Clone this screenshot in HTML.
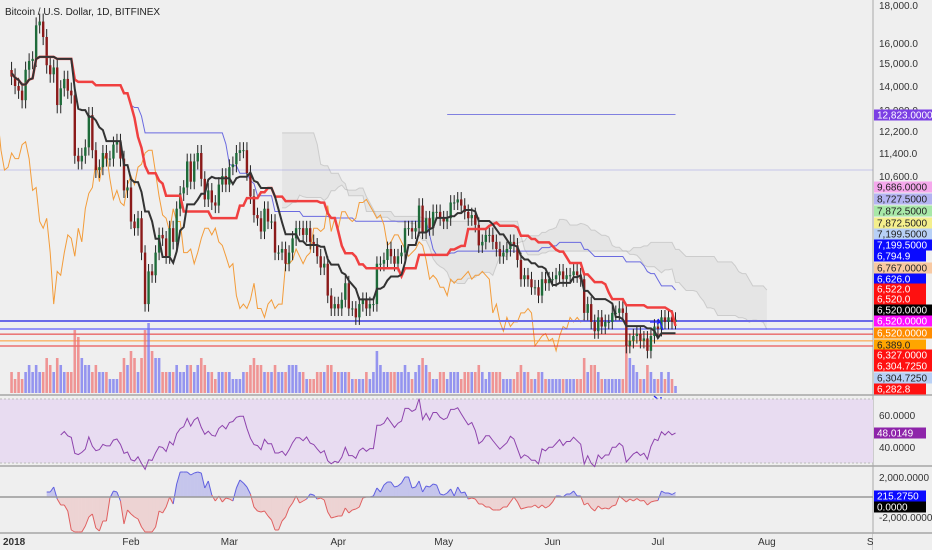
<!DOCTYPE html>
<html><head><meta charset="utf-8">
<style>
html,body{margin:0;padding:0;background:#efefef;}
#wrap{position:relative;width:932px;height:550px;overflow:hidden;background:#efefef;font-family:"Liberation Sans",sans-serif;}
svg{position:absolute;left:0;top:0;}
</style></head>
<body>
<div id="wrap">
<svg id="chart" width="932" height="550"></svg>
</div>
<script>
const closes=[14400,14000,13800,
13400,14700,15100,15200,16900,17100,16300,
14900,14500,14800,13200,13900,14300,13800,
13600,11300,11100,11300,11600,12800,11500,
10800,10900,11400,11200,11200,11700,11800,
11200,10100,10200,9100,8900,9200,8200,
6900,7700,7600,8200,8700,8600,8100,
8900,8500,9500,10000,10200,11100,10400,
11100,11400,10500,9800,10100,9700,9600,
10300,10600,10300,10900,11000,11400,11500,
11500,10700,9900,9300,9200,8800,9500,
9100,9100,8200,8200,8300,7900,8200,
8600,8900,8900,8700,8900,8500,8400,
8100,7800,7900,7100,6800,6900,6800,
7000,7400,6800,6800,6600,6900,7000,
6800,6900,6900,7900,7900,8000,8300,
8100,7900,8100,8200,8900,8900,8800,
8900,9600,8800,9200,8900,9400,9400,
9200,9100,9200,9700,9700,9800,9600,
9400,9200,9300,9000,8400,8500,8700,
8700,8500,8300,8100,8200,8300,8500,
8400,8000,7500,7600,7500,7300,7300,
7100,7500,7400,7500,7500,7600,7700,
7500,7600,7600,7700,7600,7500,6700,
6900,6500,6300,6600,6400,6500,6500,
6700,6700,6800,6700,6000,6100,6200,
6250,6100,6150,5900,6200,6400,6350,
6600,6500,6600,6500,6550];
const volumes=[3,2,3,
2,3,4,3,4,3,3, 5,4,3,5,4,3,3, 3,9,8,5,4,4,3, 4,3,3,3,2,2,2, 3,5,4,6,5,3,5,
9,10,6,5,5,3,3, 3,3,4,3,3,4,4, 3,4,5,4,3,3,2, 3,3,3,3,2,2,2, 3,3,4,5,4,4,3,
3,3,4,3,3,3,4, 4,4,3,3,2,2,2, 3,3,3,4,4,3,3, 3,3,3,2,2,2,2, 3,2,3,6,4,3,3,
3,3,3,3,4,3,2, 3,4,5,4,3,2,2, 3,3,2,3,3,3,2, 3,3,3,3,4,3,2, 3,3,3,3,2,2,2,
2,3,4,3,3,2,2, 3,3,2,2,2,2,2, 2,2,2,2,2,2,5, 3,4,4,3,2,2,2, 2,2,2,2,7,5,4,
3,2,2,4,3,2,2, 3,2,3,2,1];
const priceTicks=["18,000.0","16,000.0","15,000.0","14,000.0","13,000.0","12,200.0","11,400.0","10,600.0"];
const priceTickVals=[18000,16000,15000,14000,13000,12200,11400,10600];
const monthLabels=["2018","Feb","Mar","Apr","May","Jun","Jul","Aug","Sep"];
const monthDays=[3,34,62,93,123,154,184,215,246];
const levelLines=[6347,6240,6100,5995];
const levelColors=["#3b3bff","#e83030","#ff9a30","#e83030"];
const tagTexts=["9,686.0000","8,727.5000","7,872.5000","7,872.5000","7,199.5000","7,199.5000","6,794.9","6,767.0000","6,626.0","6,522.0","6,520.0","6,520.0000","6,520.0000","6,520.0000","6,389.0","6,327.0000","6,304.7250","6,304.7250","6,282.8"];
const tagBg=["#f5a8ec","#b4b4f2","#a8e8a8","#f4ef8c","#b8d0f6","#0a0aff","#0a0aff","#f8c9a2","#0a0aff","#ff1010","#ff1010","#000","#ff10ff","#ff8c00","#ffa500","#ff1010","#ff1010","#b8d0f6","#ff1010"];
const tagFg=["#222","#222","#222","#222","#222","#fff","#fff","#222","#fff","#fff","#fff","#fff","#fff","#fff","#222","#fff","#fff","#222","#fff"];

const NS="http://www.w3.org/2000/svg";
const svg=document.getElementById('chart');
function el(t,a,p){const e=document.createElementNS(NS,t);for(const k in a)e.setAttribute(k,a[k]);(p||svg).appendChild(e);return e;}
const anchors=[[18000,5],[16000,43],[15000,63],[14000,86],[13000,110],[12200,131],[11400,153],[10600,176],[6520,321]];
function yOf(p){
  const lp=Math.log(p);
  for(let i=0;i<anchors.length-1;i++){
    const a=anchors[i],b=anchors[i+1];
    if(p<=a[0]&&p>=b[0]){return a[1]+(Math.log(a[0])-lp)/(Math.log(a[0])-Math.log(b[0]))*(b[1]-a[1]);}
  }
  if(p>18000)return 5-(lp-Math.log(18000))*320;
  const a=anchors[7],b=anchors[8];
  return b[1]+(Math.log(b[0])-lp)/(Math.log(a[0])-Math.log(b[0]))*(b[1]-a[1]);
}
function xOf(i){return 131+(i-34)*3.513;}
const n=closes.length;
const opens=closes.map((c,i)=>i?closes[i-1]:c*1.02);
const highs=closes.map((c,i)=>Math.max(c,opens[i])*1.025);
const lows=closes.map((c,i)=>Math.min(c,opens[i])*0.975);
function mid(i,p){let h=-1e9,l=1e9;for(let k=Math.max(0,i-p+1);k<=i;k++){h=Math.max(h,highs[k]);l=Math.min(l,lows[k]);}return (h+l)/2;}
const tenkan=closes.map((c,i)=>mid(i,9)),kijun=closes.map((c,i)=>mid(i,26)),spanB=closes.map((c,i)=>mid(i,52));
const spanA=tenkan.map((t,i)=>(t+kijun[i])/2);

el('line',{x1:0,y1:395,x2:932,y2:395,stroke:'#b8b8b8','stroke-width':2});
el('line',{x1:0,y1:466,x2:932,y2:466,stroke:'#b8b8b8','stroke-width':2});
el('line',{x1:0,y1:533,x2:932,y2:533,stroke:'#b8b8b8','stroke-width':2});
el('line',{x1:873,y1:0,x2:873,y2:550,stroke:'#a8a8a8','stroke-width':1});

function pathFrom(arr,off){let d='';for(let i=0;i<arr.length;i++){const x=xOf(i+off);d+=(d?'L':'M')+x.toFixed(1)+' '+yOf(arr[i]).toFixed(1);}return d;}
let cloudTop='',cloudBot=[];
for(let i=51;i<n;i++){const x=xOf(i+26);cloudTop+=(cloudTop?'L':'M')+x+' '+yOf(spanA[i]);cloudBot.unshift(x+' '+yOf(spanB[i]));}
const cloud=el('path',{d:cloudTop+'L'+cloudBot.join('L')+'Z',fill:'rgba(120,120,120,0.08)',stroke:'none'});


el('path',{d:pathFrom(spanA.slice(51),77),fill:'none',stroke:'rgba(150,150,150,0.35)','stroke-width':1});
el('path',{d:pathFrom(spanB.slice(51),77),fill:'none',stroke:'rgba(150,150,150,0.35)','stroke-width':1});
const bl=el('path',{d:pathFrom(spanB,0),fill:'none',stroke:'#6a6ae0','stroke-width':1});


el('line',{x1:xOf(124),y1:yOf(12823),x2:xOf(189),y2:yOf(12823),stroke:'#8080e0','stroke-width':1});
el('line',{x1:0,y1:yOf(10600)-6,x2:873,y2:yOf(10600)-6,stroke:'rgba(120,120,220,0.35)','stroke-width':1});
const ch=el('path',{d:pathFrom(closes,-26),fill:'none',stroke:'#f39c3a','stroke-width':1});


el('line',{x1:0,y1:321,x2:873,y2:321,stroke:'#6a6ae8','stroke-width':2});
levelLines.forEach((v,k)=>{const l=el('line',{x1:0,y1:yOf(v),x2:873,y2:yOf(v),stroke:levelColors[k],'stroke-width':1});

});
const vg=el('g',{});


volumes.forEach((v,i)=>{const h=v*7;const r=el('rect',{x:xOf(i)-1.3,y:393-h,width:2.6,height:h,fill:closes[i]>=opens[i]?'rgba(110,110,240,0.7)':'rgba(240,110,110,0.7)'},vg);

});
const cg=el('g',{});


closes.forEach((c,i)=>{const up=c>=opens[i];const col=up?'#1e6b3a':'#8b1a1a';const x=xOf(i);
el('line',{x1:x,y1:yOf(highs[i]),x2:x,y2:yOf(lows[i]),stroke:'#222','stroke-width':1},cg);
const y1=yOf(Math.max(c,opens[i])),y2=yOf(Math.min(c,opens[i]));
const r=el('rect',{x:x-1.2,y:y1,width:2.4,height:Math.max(1,y2-y1),fill:col},cg);

});
const kj=el('path',{d:pathFrom(kijun,0),fill:'none',stroke:'#f04040','stroke-width':2.5});


const tk=el('path',{d:pathFrom(tenkan,0),fill:'none',stroke:'#333','stroke-width':2});


el('path',{d:'M650 322 L660 322 L663 330 M658 319 L660 322 L657 324',stroke:'#2020ff',fill:'none','stroke-width':1.3});
el('path',{d:'M654 396 L661 402 M655 402 L661 402 L661 397',stroke:'#2020ff',fill:'none','stroke-width':1.3});
const ttl=el('text',{x:5,y:15,'font-size':10,fill:'#222'});ttl.textContent='Bitcoin / U.S. Dollar, 1D, BITFINEX';


priceTicks.forEach((s,k)=>{const tt=el('text',{x:879,y:yOf(priceTickVals[k])+4,'font-size':10,fill:'#333'});tt.textContent=s;

});
function tag(y,txt,bg,fg){const r=el('rect',{x:874,y:y-5.5,width:Math.max(52,txt.length*5.8+4),height:11,fill:bg});


const tt=el('text',{x:877,y:y+3.5,'font-size':10,fill:fg});tt.textContent=txt;}
tag(115,'12,823.0000','#7b3fe4','#fff');
const tagYs=[187,199,211,223,234,245,256,268,279,289,299,310,321,333,345,355,366,378,389];
tagTexts.forEach((s,k)=>tag(tagYs[k],s,tagBg[k],tagFg[k]));
let ag=0,al=0;const rsi=[];
for(let i=1;i<n;i++){const d=closes[i]-closes[i-1];const g=Math.max(d,0),l=Math.max(-d,0);
if(i<=14){ag+=g/14;al+=l/14;}else{ag=(ag*13+g)/14;al=(al*13+l)/14;}
rsi.push(al===0?100:100-100/(1+ag/al));}
function yR(v){return 415+(60-v)*1.6;}
el('rect',{x:0,y:yR(70),width:873,height:yR(30)-yR(70),fill:'#e8dcf1'});
el('line',{x1:0,y1:yR(70),x2:873,y2:yR(70),stroke:'#bbb','stroke-dasharray':'2,2'});
el('line',{x1:0,y1:yR(30),x2:873,y2:yR(30),stroke:'#bbb','stroke-dasharray':'2,2'});
let rd='';rsi.forEach((v,k)=>{if(k<13)return;rd+=(rd?'L':'M')+xOf(k+1).toFixed(1)+' '+yR(Math.max(26,Math.min(75,v))).toFixed(1);});
const rp=el('path',{d:rd,fill:'none',stroke:'#8e44ad','stroke-width':1});


[['60.0000',60],['40.0000',40]].forEach(a=>{const tt=el('text',{x:879,y:yR(a[1])+4,'font-size':10,fill:'#333'});tt.textContent=a[0];});
tag(433,'48.0149','#8e24aa','#fff');
const mom=closes.map((c,i)=>i>=10?c-closes[i-10]:null);
function yM(v){return 497-Math.max(-3500,Math.min(2500,v))*0.01;}
for(let i=11;i<n;i++){const x0=xOf(i-1),x1=xOf(i),a=mom[i-1],b=mom[i];
const col=(a+b)/2>=0?'#6060e0':'#e06060';const fl=(a+b)/2>=0?'rgba(100,100,230,0.3)':'rgba(230,100,100,0.2)';
el('path',{d:`M${x0} 497L${x0} ${yM(a)}L${x1} ${yM(b)}L${x1} 497Z`,fill:fl,stroke:'none'});
const s=el('line',{x1:x0,y1:yM(a),x2:x1,y2:yM(b),stroke:col,'stroke-width':1});

}
el('line',{x1:0,y1:497,x2:873,y2:497,stroke:'#999','stroke-width':1.5});
[['2,000.0000',2000],['-2,000.0000',-2000]].forEach(a=>{const tt=el('text',{x:879,y:yM(a[1])+4,'font-size':10,fill:'#333'});tt.textContent=a[0];});
tag(496,'215.2750','#0a0aff','#fff');
tag(507,'0.0000','#000','#fff');
monthLabels.forEach((m,k)=>{const tt=el('text',{x:k===0?3:xOf(monthDays[k]),y:545,'font-size':10,fill:'#333','text-anchor':k===0?'start':'middle','font-weight':k===0?'bold':'normal'});tt.textContent=m;

});
el('rect',{x:873,y:534,width:59,height:16,fill:'#efefef'});
</script>
</body></html>
